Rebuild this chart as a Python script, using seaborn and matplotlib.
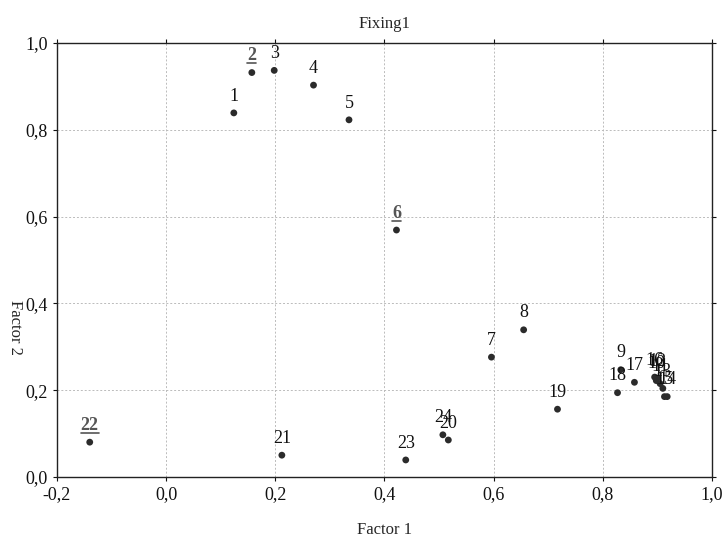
import pandas as pd
import seaborn as sns
import matplotlib.pyplot as plt
from matplotlib.lines import Line2D
from matplotlib.ticker import FuncFormatter, MultipleLocator

labels = [str(i) for i in range(1, 25)]
factor1 = [0.124, 0.157, 0.198, 0.270, 0.335, 0.422, 0.596, 0.655, 0.833, 0.898,
           0.905, 0.900, 0.910, 0.918, 0.913, 0.895, 0.858, 0.827, 0.717, 0.517,
           0.212, -0.140, 0.439, 0.507]
factor2 = [0.839, 0.932, 0.937, 0.903, 0.823, 0.569, 0.276, 0.339, 0.247, 0.222,
           0.215, 0.228, 0.204, 0.185, 0.185, 0.230, 0.218, 0.194, 0.156, 0.085,
           0.050, 0.080, 0.039, 0.097]
highlighted = ["2", "6", "22"]

df = pd.DataFrame({"label": labels, "Factor 1": factor1, "Factor 2": factor2})

sns.set_style("white")
plt.rcParams["font.family"] = ["Liberation Serif", "DejaVu Serif"]

fig = plt.figure(figsize=(7.25, 5.45), dpi=100)
ax = fig.add_axes([0.0786, 0.125, 0.9034, 0.796])

sns.scatterplot(data=df, x="Factor 1", y="Factor 2", ax=ax, color="#2b2b2b",
                s=24, edgecolor="none", zorder=3)

underlined = []
for _, row in df.iterrows():
    hl = row["label"] in highlighted
    t = ax.annotate(row["label"], (row["Factor 1"], row["Factor 2"]), xytext=(0, 6),
                    textcoords="offset points", ha="center", va="bottom",
                    fontsize=13, color="#555555" if hl else "#111111",
                    fontweight="bold" if hl else "normal", zorder=4)
    if hl:
        underlined.append(t)

ax.set_xlim(-0.2, 1.0)
ax.set_ylim(0.0, 1.0)
ax.xaxis.set_major_locator(MultipleLocator(0.2))
ax.yaxis.set_major_locator(MultipleLocator(0.2))
fmt = FuncFormatter(lambda v, p: f"{v:.1f}".replace(".", ",").replace("-0,0", "0,0"))
ax.xaxis.set_major_formatter(fmt)
ax.yaxis.set_major_formatter(fmt)
ax.tick_params(axis="both", direction="out", length=3, width=0.8, labelsize=13,
               colors="#111111", bottom=True, left=True, top=True, right=True)

ax.grid(True, color="#bbbbbb", linestyle=(0, (2, 2)), linewidth=0.7)
for sp in ax.spines.values():
    sp.set_color("#222222")
    sp.set_linewidth(1.0)

ax.set_title("Fixing1", fontsize=12, pad=11)
ax.set_xlabel("Factor 1", fontsize=12, labelpad=14)
ax.set_ylabel("")
fig.text(0.02, 0.40, "Factor 2", rotation=270, fontsize=12, ha="center", va="center")

# underline the highlighted labels, using their rendered extents
fig.canvas.draw()
inv = fig.transFigure.inverted()
for t in underlined:
    bb = t.get_window_extent()
    (x0, y0), (x1, _) = inv.transform([(bb.x0, bb.y0 + 1), (bb.x1, bb.y0)])
    fig.add_artist(Line2D([x0, x1], [y0, y0], color="#555555", linewidth=1.2))

fig.savefig("out.png", dpi=100)
